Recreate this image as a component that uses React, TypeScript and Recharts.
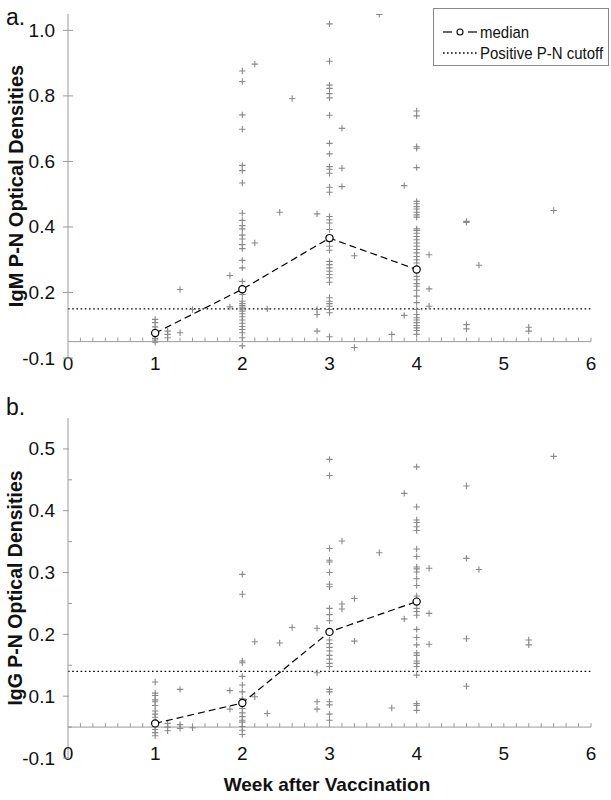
import React from 'react';
import { ScatterChart, Scatter, XAxis, YAxis, ReferenceLine } from 'recharts';

// ---- shared axis data (x in days after vaccination; labels in weeks) ----
const xTickDays = [0, 7, 14, 21, 28, 35, 42];
const xTickLabels = ['0', '1', '2', '3', '4', '5', '6'];
const medianDays = [7, 14, 21, 28];

// ---- Panel a: IgM ----
const igmYMajor = [0, 0.2, 0.4, 0.6, 0.8, 1.0];
const igmYMajorLabels = ['-0.1', '0.2', '0.4', '0.6', '0.8', '1.0'];
const igmYMinor: number[] = [];
const igmCutoff = 0.15;
const igmBaseline = 0.05;
const igmMedian = [0.076, 0.21, 0.366, 0.27];
const igmDay7 = [0.118, 0.108, 0.095, 0.085, 0.075, 0.068, 0.06, 0.055, 0.048];
const igmDay14 = [0.876, 0.844, 0.742, 0.698, 0.588, 0.572, 0.534, 0.442, 0.42, 0.404, 0.394, 0.375, 0.363, 0.346, 0.334, 0.298, 0.275, 0.234, 0.194, 0.173, 0.166, 0.16, 0.155, 0.15, 0.143, 0.135, 0.126, 0.116, 0.106, 0.096, 0.087, 0.077, 0.062, 0.037];
const igmDay21 = [1.02, 0.906, 0.833, 0.823, 0.807, 0.794, 0.741, 0.655, 0.623, 0.584, 0.576, 0.564, 0.521, 0.506, 0.432, 0.422, 0.412, 0.392, 0.356, 0.341, 0.329, 0.295, 0.285, 0.275, 0.265, 0.255, 0.245, 0.231, 0.184, 0.173, 0.166, 0.158, 0.148, 0.138, 0.065];
const igmDay28 = [0.754, 0.739, 0.645, 0.64, 0.581, 0.478, 0.471, 0.462, 0.455, 0.445, 0.437, 0.43, 0.394, 0.389, 0.381, 0.371, 0.361, 0.351, 0.341, 0.331, 0.321, 0.31, 0.3, 0.29, 0.249, 0.239, 0.227, 0.219, 0.207, 0.189, 0.169, 0.148, 0.133, 0.123, 0.116, 0.108, 0.099, 0.092, 0.084, 0.072];
const igmOtherDays = [8, 8, 8, 9, 9, 10, 13, 13, 15, 15, 16, 17, 18, 20, 20, 20, 20, 22, 22, 22, 23, 23, 25, 26, 27, 27, 29, 29, 29, 32, 32, 32, 32, 33, 37, 37, 39];
const igmOtherValues = [0.082, 0.072, 0.062, 0.209, 0.077, 0.148, 0.252, 0.156, 0.897, 0.351, 0.15, 0.445, 0.792, 0.44, 0.148, 0.133, 0.082, 0.701, 0.579, 0.523, 0.312, 0.032, 1.049, 0.072, 0.526, 0.13, 0.315, 0.211, 0.158, 0.417, 0.414, 0.102, 0.089, 0.283, 0.094, 0.082, 0.45];

// ---- Panel b: IgG ----
const iggYMajor = [0, 0.1, 0.2, 0.3, 0.4, 0.5];
const iggYMajorLabels = ['-0.1', '0.1', '0.2', '0.3', '0.4', '0.5'];
const iggYMinor = [0.05, 0.15, 0.25, 0.35, 0.45];
const iggCutoff = 0.14;
const iggBaseline = 0.05;
const iggMedian = [0.056, 0.089, 0.204, 0.253];
const iggDay7 = [0.123, 0.105, 0.101, 0.094, 0.091, 0.085, 0.076, 0.071, 0.066, 0.051, 0.046, 0.041, 0.036];
const iggDay14 = [0.297, 0.265, 0.157, 0.154, 0.132, 0.118, 0.107, 0.096, 0.093, 0.08, 0.073, 0.067, 0.061, 0.058, 0.051, 0.045, 0.038];
const iggDay21 = [0.483, 0.457, 0.339, 0.32, 0.317, 0.3, 0.281, 0.277, 0.242, 0.232, 0.222, 0.191, 0.185, 0.179, 0.173, 0.166, 0.16, 0.153, 0.148, 0.111, 0.107, 0.091, 0.086, 0.071, 0.061];
const iggDay28 = [0.471, 0.406, 0.385, 0.381, 0.374, 0.368, 0.338, 0.326, 0.309, 0.306, 0.301, 0.29, 0.279, 0.262, 0.242, 0.237, 0.231, 0.208, 0.195, 0.183, 0.17, 0.166, 0.157, 0.153, 0.148, 0.134, 0.088, 0.085, 0.077];
const iggOtherDays = [8, 8, 8, 9, 9, 9, 10, 13, 13, 15, 15, 16, 17, 18, 20, 20, 20, 20, 22, 22, 22, 23, 23, 25, 26, 27, 27, 29, 29, 29, 32, 32, 32, 32, 33, 37, 37, 39];
const iggOtherValues = [0.056, 0.05, 0.044, 0.111, 0.054, 0.048, 0.049, 0.109, 0.079, 0.188, 0.099, 0.072, 0.186, 0.211, 0.21, 0.138, 0.091, 0.079, 0.351, 0.249, 0.241, 0.258, 0.189, 0.332, 0.081, 0.428, 0.225, 0.307, 0.234, 0.184, 0.44, 0.323, 0.193, 0.116, 0.305, 0.191, 0.183, 0.488];

const FONT = '"Liberation Sans", Arial, Helvetica, sans-serif';
const AXIS = '#9a9a9a';
const MARK = '#8a8a8a';

const buildPoints = (cols: number[][], otherDays: number[], otherValues: number[]) => {
  const pts: { x: number; y: number }[] = [];
  cols.forEach((vals, i) => vals.forEach((v) => pts.push({ x: medianDays[i], y: v })));
  otherDays.forEach((d, i) => pts.push({ x: d, y: otherValues[i] }));
  return pts;
};

const igmPoints = buildPoints([igmDay7, igmDay14, igmDay21, igmDay28], igmOtherDays, igmOtherValues);
const iggPoints = buildPoints([iggDay7, iggDay14, iggDay21, iggDay28], iggOtherDays, iggOtherValues);
const igmMedianPts = medianDays.map((d, i) => ({ x: d, y: igmMedian[i] }));
const iggMedianPts = medianDays.map((d, i) => ({ x: d, y: iggMedian[i] }));

const Plus = (p: any) => {
  const { cx, cy } = p;
  if (cx == null || cy == null) return <g />;
  return <path d={`M${cx - 3.2},${cy}H${cx + 3.2}M${cx},${cy - 3.2}V${cy + 3.2}`} stroke={MARK} strokeWidth={1.1} fill="none" />;
};

const MedianDot = (p: any) => {
  const { cx, cy } = p;
  if (cx == null || cy == null) return <g />;
  return <circle cx={cx} cy={cy} r={3.6} fill="#fff" stroke="#000" strokeWidth={1.2} />;
};

const renderXTick = (p: any, dy: number) => {
  const idx = xTickDays.indexOf(p.payload.value);
  return (
    <text x={p.x} y={p.y + dy} textAnchor="middle" dominantBaseline="central" fontFamily={FONT} fontSize={19} fill="#111">
      {idx >= 0 ? xTickLabels[idx] : ''}
    </text>
  );
};

const renderYTick = (p: any, majors: number[], labels: string[], gap: number, fontSize: number, tickRight: number) => {
  const v = p.payload.value;
  const mi = majors.findIndex((m) => Math.abs(m - v) < 1e-9);
  if (mi >= 0) {
    return (
      <g>
        <line x1={p.x - 5} x2={p.x + tickRight} y1={p.y} y2={p.y} stroke={AXIS} strokeWidth={1} />
        <text x={p.x - gap} y={p.y} textAnchor="end" dominantBaseline="central" fontFamily={FONT} fontSize={fontSize} fill="#111">
          {labels[mi]}
        </text>
      </g>
    );
  }
  return <line x1={p.x} x2={p.x + 4} y1={p.y} y2={p.y} stroke={AXIS} strokeWidth={1} />;
};

// baseline with a small tick for every day
const DayTickLine = (p: any) => {
  const { x1, x2, y1 } = p;
  if (x1 == null) return <g />;
  const n = 42;
  const ticks = [];
  for (let i = 1; i <= n; i++) {
    const x = x1 + ((x2 - x1) * i) / n;
    ticks.push(<line key={i} x1={x} x2={x} y1={y1} y2={y1 - 4} stroke={AXIS} strokeWidth={1} />);
  }
  return (
    <g>
      <line x1={x1} x2={x2} y1={y1} y2={y1} stroke={AXIS} strokeWidth={1} />
      {ticks}
    </g>
  );
};

const LegendBox = () => (
  <svg width={176} height={58} style={{ display: 'block' }}>
    <rect x={0.5} y={0.5} width={175} height={57} fill="#fff" stroke="#8a8a8a" strokeWidth={1} />
    <line x1={10} x2={19} y1={24} y2={24} stroke="#000" strokeWidth={1.2} />
    <circle cx={27} cy={24} r={3} fill="#fff" stroke="#000" strokeWidth={1.1} />
    <line x1={35} x2={44} y1={24} y2={24} stroke="#000" strokeWidth={1.2} />
    <text transform="translate(47,24) scale(1,1.15)" dominantBaseline="central" fontFamily={FONT} fontSize={15} fill="#111">
      median
    </text>
    <line x1={10} x2={44} y1={45} y2={45} stroke="#000" strokeWidth={1.3} strokeDasharray="1.6 2.4" />
    <text transform="translate(47,45) scale(1,1.15)" dominantBaseline="central" fontFamily={FONT} fontSize={15} fill="#111">
      Positive P-N cutoff
    </text>
  </svg>
);

export default function App() {
  return (
    <div style={{ position: 'absolute', left: 0, top: 0, width: 611, height: 800, background: '#fff', overflow: 'hidden' }}>
      <div style={{ position: 'absolute', left: 0, top: 0 }}>
        <ScatterChart width={611} height={380} margin={{ top: 14, right: 20, bottom: 0, left: 0 }}>
          <XAxis type="number" dataKey="x" domain={[0, 42]} ticks={xTickDays} interval={0} axisLine={false} tickLine={false} tickSize={0} tickMargin={0} height={22} allowDataOverflow tick={(p: any) => renderXTick(p, 5)} />
          <YAxis type="number" dataKey="y" domain={[0, 1.05]} ticks={[...igmYMajor, ...igmYMinor]} interval={0} width={68} axisLine={{ stroke: AXIS }} tickLine={false} tickSize={0} tickMargin={0} allowDataOverflow tick={(p: any) => renderYTick(p, igmYMajor, igmYMajorLabels, 13, 19, 5)} />
          <ReferenceLine y={igmBaseline} shape={DayTickLine} />
          <ReferenceLine y={igmCutoff} stroke="#000" strokeWidth={1.3} strokeDasharray="1.6 2.6" />
          <Scatter data={igmPoints} shape={Plus} isAnimationActive={false} />
          <Scatter data={igmMedianPts} shape={MedianDot} line={{ stroke: '#000', strokeWidth: 1.2, strokeDasharray: '7 4' }} isAnimationActive={false} />
        </ScatterChart>
      </div>
      <div style={{ position: 'absolute', left: 433, top: 8 }}>
        <LegendBox />
      </div>
      <div style={{ position: 'absolute', left: 0, top: 380 }}>
        <ScatterChart width={611} height={420} margin={{ top: 38, right: 20, bottom: 0, left: 0 }}>
          <XAxis type="number" dataKey="x" domain={[0, 42]} ticks={xTickDays} interval={0} axisLine={false} tickLine={false} tickSize={0} tickMargin={0} height={42} allowDataOverflow tick={(p: any) => renderXTick(p, -5)} />
          <YAxis type="number" dataKey="y" domain={[0, 0.55]} ticks={[...iggYMajor, ...iggYMinor]} interval={0} width={68} axisLine={{ stroke: AXIS }} tickLine={false} tickSize={0} tickMargin={0} allowDataOverflow tick={(p: any) => renderYTick(p, iggYMajor, iggYMajorLabels, 13, 19, 1)} />
          <ReferenceLine y={iggBaseline} shape={DayTickLine} />
          <ReferenceLine y={iggCutoff} stroke="#000" strokeWidth={1.3} strokeDasharray="1.6 2.6" />
          <Scatter data={iggPoints} shape={Plus} isAnimationActive={false} />
          <Scatter data={iggMedianPts} shape={MedianDot} line={{ stroke: '#000', strokeWidth: 1.2, strokeDasharray: '7 4' }} isAnimationActive={false} />
        </ScatterChart>
      </div>
      <svg width={611} height={800} style={{ position: 'absolute', left: 0, top: 0, pointerEvents: 'none' }}>
        <text x={6} y={25} fontFamily={FONT} fontSize={23} fill="#111">a.</text>
        <text x={6} y={415} fontFamily={FONT} fontSize={23} fill="#111">b.</text>
        <text transform="translate(16,186) rotate(-90)" textAnchor="middle" dominantBaseline="central" fontFamily={FONT} fontSize={20} fontWeight="bold" fill="#111">
          IgM P-N Optical Densities
        </text>
        <text transform="translate(15,588) rotate(-90)" textAnchor="middle" dominantBaseline="central" fontFamily={FONT} fontSize={19.5} fontWeight="bold" fill="#111">
          IgG P-N Optical Densities
        </text>
        <text x={327} y={784} textAnchor="middle" dominantBaseline="central" fontFamily={FONT} fontSize={19} fontWeight="bold" fill="#111">
          Week after Vaccination
        </text>
      </svg>
    </div>
  );
}
